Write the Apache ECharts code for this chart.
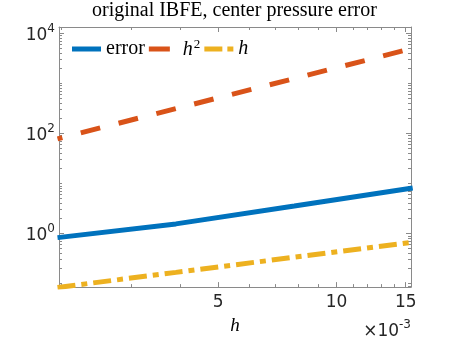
<!DOCTYPE html>
<html>
<head>
<meta charset="utf-8">
<script src="https://cdn.jsdelivr.net/npm/echarts@6/dist/echarts.min.js"></script>
<style>
  html, body { margin: 0; padding: 0; background: #fff; }
  #chart { width: 455px; height: 340px; }
</style>
</head>
<body>
<div id="chart"></div>
<script>
// mesh sizes and errors
const hVals = [0.001953, 0.003906, 0.007813, 0.015625];
const errVals = [0.83, 1.56, 3.55, 8.15];
const h2Vals = [78, 313, 1250, 5000];
const h1Vals = [0.084, 0.168, 0.337, 0.674];

// tick values
const xMajorTicks = [0.005, 0.01, 0.015];
const xMinorTicks = [0.002, 0.003, 0.004, 0.006, 0.007, 0.008, 0.009, 0.011, 0.012, 0.013, 0.014];
const yMajorTicks = [1, 100, 10000];
const yMinorTicks = [
  0.09, 0.1, 0.2, 0.3, 0.4, 0.5, 0.6, 0.7, 0.8, 0.9,
  2, 3, 4, 5, 6, 7, 8, 9, 10, 20, 30, 40, 50, 60, 70, 80, 90,
  200, 300, 400, 500, 600, 700, 800, 900, 1000,
  2000, 3000, 4000, 5000, 6000, 7000, 8000, 9000
];

const xMin = 0.00197, xMax = 0.01547;
const yMin = 0.0853, yMax = 13330;

const axisGray = '#8a8a8a';
const txt = '#262626';
const serif = 'Liberation Serif';
const sans = 'DejaVu Sans';

function pair(ys) {
  return hVals.map((h, i) => [h, ys[i]]);
}

function xAx(pos, ticks, len, opts) {
  return Object.assign({
    type: 'log', position: pos, min: xMin, max: xMax,
    axisLine: { show: false },
    axisTick: { inside: true, length: len, customValues: ticks, lineStyle: { color: axisGray } },
    axisLabel: { show: false },
    splitLine: { show: false }
  }, opts || {});
}
function yAx(pos, ticks, len, opts) {
  return Object.assign({
    type: 'log', position: pos, min: yMin, max: yMax,
    axisLine: { show: false },
    axisTick: { inside: true, length: len, customValues: ticks, lineStyle: { color: axisGray } },
    axisLabel: { show: false },
    splitLine: { show: false }
  }, opts || {});
}

const chart = echarts.init(document.getElementById('chart'));

chart.setOption({
  animation: false,
  title: {
    text: 'original IBFE, center pressure error',
    left: 92, top: 1, padding: 0,
    textStyle: { fontFamily: serif, fontWeight: 'normal', fontSize: 20, color: '#000' }
  },
  legend: {
    left: 72, top: 38, padding: 0,
    itemWidth: 29, itemHeight: 14, itemGap: 4,
    // legend samples: solid, one dash, dash + dot
    data: [
      { name: 'error', icon: 'path://M0,0H29V5H0Z' },
      { name: 'h^2', icon: 'path://M0,0H21V5H0ZM29,0V5' },
      { name: 'h', icon: 'path://M0,0H18V5H0ZM23,0H29V5H23Z' }
    ],
    formatter: function (name) {
      if (name === 'h^2') return '{i|h}{s|2}';
      if (name === 'h') return '{i|h}';
      return '{n|error}';
    },
    textStyle: {
      color: '#000',
      rich: {
        n: { fontFamily: serif, fontSize: 20, color: '#000', verticalAlign: 'bottom' },
        i: { fontFamily: serif, fontStyle: 'italic', fontSize: 20, color: '#000', verticalAlign: 'bottom' },
        s: { fontFamily: serif, fontSize: 13, color: '#000', verticalAlign: 'bottom', padding: [0, 0, 9, 1] }
      }
    }
  },
  grid: { left: 59, right: 44, top: 27, bottom: 51 },
  xAxis: [
    xAx('bottom', xMajorTicks, 5, {
      axisLine: { show: true, lineStyle: { color: axisGray, width: 1 } },
      axisLabel: {
        show: true, customValues: xMajorTicks, margin: 7,
        fontFamily: sans, fontSize: 17, color: txt,
        formatter: function (v) { return String(Math.round(v * 1000)); }
      },
      name: 'h', nameLocation: 'middle', nameGap: 25,
      nameTextStyle: { fontFamily: serif, fontStyle: 'italic', fontSize: 19, color: '#000' }
    }),
    xAx('bottom', xMinorTicks, 3),
    xAx('top', xMajorTicks, 5, { axisLine: { show: true, lineStyle: { color: axisGray, width: 1 } } }),
    xAx('top', xMinorTicks, 3)
  ],
  yAxis: [
    yAx('left', yMajorTicks, 5, {
      axisLine: { show: true, lineStyle: { color: axisGray, width: 1 } },
      axisLabel: {
        show: true, customValues: yMajorTicks, margin: 4,
        formatter: function (v) {
          return '{a|10}{b|' + Math.round(Math.log10(v)) + '}';
        },
        rich: {
          a: { fontFamily: sans, fontSize: 17, color: txt, verticalAlign: 'bottom' },
          b: { fontFamily: sans, fontSize: 12, color: txt, verticalAlign: 'bottom', padding: [0, 0, 9, 0] }
        }
      }
    }),
    yAx('left', yMinorTicks, 3),
    yAx('right', yMajorTicks, 5, { axisLine: { show: true, lineStyle: { color: axisGray, width: 1 } } }),
    yAx('right', yMinorTicks, 3)
  ],
  graphic: [{
    type: 'text', right: 44, top: 319,
    style: {
      text: '{a|×10}{b|-3}',
      rich: {
        a: { fontFamily: sans, fontSize: 17, fill: txt, verticalAlign: 'bottom' },
        b: { fontFamily: sans, fontSize: 12, fill: txt, verticalAlign: 'bottom', padding: [0, 0, 9, 0] }
      }
    }
  }],
  series: [
    {
      name: 'error', type: 'line', data: pair(errVals),
      symbol: 'none', clip: true,
      lineStyle: { color: '#0072BD', width: 5, cap: 'butt' },
      itemStyle: { color: '#0072BD' }
    },
    {
      name: 'h^2', type: 'line', data: pair(h2Vals),
      symbol: 'none', clip: true,
      lineStyle: { color: '#D95319', width: 5, type: [20, 19], dashOffset: 15, cap: 'butt' },
      itemStyle: { color: '#D95319' }
    },
    {
      name: 'h', type: 'line', data: pair(h1Vals),
      symbol: 'none', clip: true,
      lineStyle: { color: '#EDB120', width: 5, type: [18, 6, 6, 6], cap: 'butt' },
      itemStyle: { color: '#EDB120' }
    }
  ]
});
</script>
</body>
</html>
